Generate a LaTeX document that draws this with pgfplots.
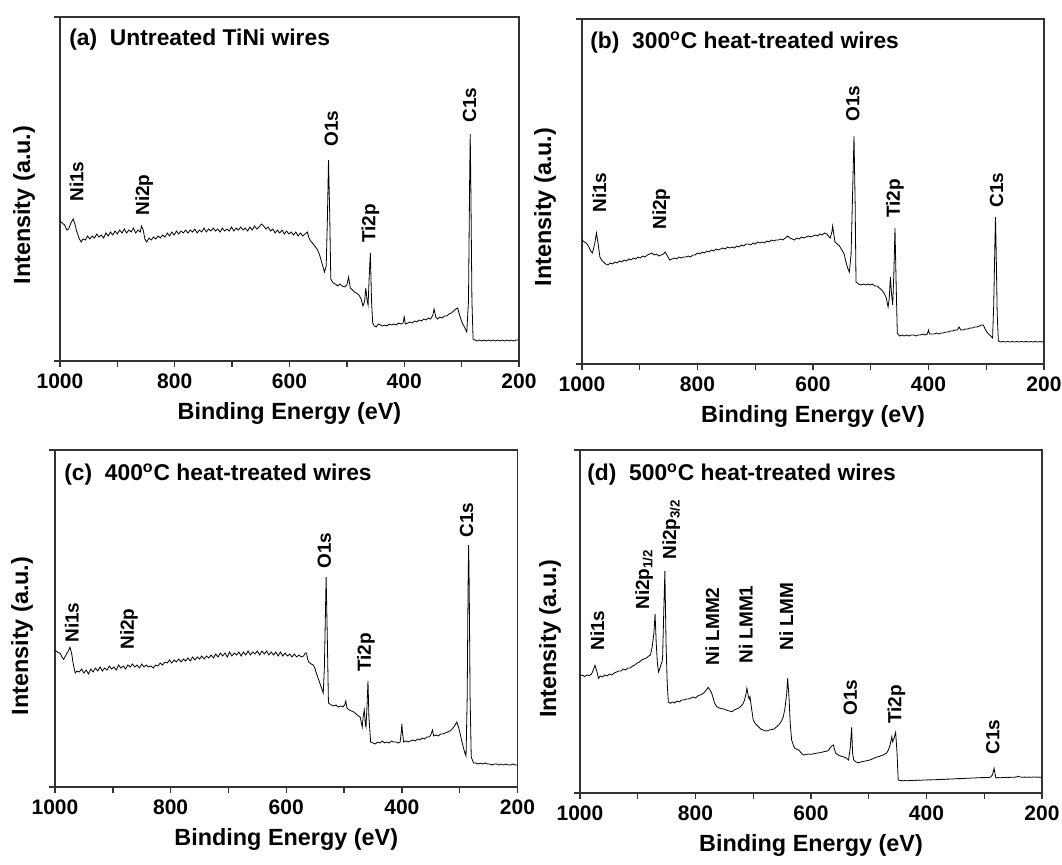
\documentclass[border=0pt]{standalone}
\usepackage{fontspec}
\setmainfont{Liberation Sans}
\usepackage{pgfplots}
\pgfplotsset{compat=1.18}

% 1 px of the reference = 0.5pt
\pgfplotsset{
  xps/.style={
    scale only axis, anchor=north west, clip=false,
    x dir=reverse, xmin=200, xmax=1000, ymin=0,
    xtick={200,400,600,800,1000}, minor xtick={300,500,700,900},
    tick align=outside, xtick pos=left, ytick pos=left,
    major tick length=3pt, minor tick length=3pt,
    yticklabels={},
    axis line style={line width=0.9pt, black!80},
    every tick/.style={line width=0.7pt, black!80},
    every minor tick/.style={line width=0.7pt, black!80},
    /pgf/number format/assume math mode=true,
    /pgf/number format/1000 sep={},
    ticklabel style={font=\fontsize{10.5}{12}\selectfont\bfseries},
    label style={font=\fontsize{11.7}{14}\selectfont\bfseries},
    xlabel={Binding Energy (eV)},
    ylabel={Intensity (a.u.)},
    cycle list={{black, line width=0.55pt, no marks}},
  },
}
\tikzset{
  lbl/.style={rotate=90, anchor=west, inner sep=0pt, font=\fontsize{9.5}{11}\selectfont\bfseries},
  ttl/.style={anchor=west, inner sep=0pt, font=\fontsize{11.4}{13}\selectfont\bfseries},
}

\begin{document}
\begin{tikzpicture}

% ---------------- (a) ----------------
\begin{axis}[xps, at={(30pt,-8.5pt)}, width=229.5pt, height=172pt,
  ymax=344, ytick={0,344},
  ylabel style={at={(rel axis cs:0,0.453)}, anchor=center, yshift=18pt}]
\addplot coordinates {
(1000,140) (996,138) (992,136) (988,131) (985,132) (981,138) (977,142) (974,137) (971,130) (967,123) (963,119) (960,122) (956,121) (952,125) (948,122) (944,125) (940,123) (936,127) (932,124) (928,126) (924,123) (920,128) (916,125) (912,129) (908,126) (904,130) (900,127) (896,131) (892,128) (888,132) (884,128) (880,131) (876,129) (872,133) (868,128) (864,131) (860,129) (858,135) (855,131) (852,122) (849,119) (845,123) (841,121) (837,124) (833,122) (829,125) (825,123) (821,126) (817,124) (813,128) (809,125) (805,129) (801,126) (797,130) (793,127) (789,130) (785,128) (781,131) (777,128) (773,131) (769,129) (765,132) (761,128) (757,131) (753,129) (749,133) (745,129) (741,132) (737,130) (733,133) (729,130) (725,132) (721,129) (717,133) (713,130) (709,132) (705,130) (701,134) (697,130) (693,133) (689,131) (685,134) (681,131) (677,133) (673,130) (669,134) (665,131) (661,135) (657,132) (653,134) (649,137) (645,135) (641,132) (637,134) (633,130) (629,132) (625,128) (621,131) (617,128) (613,131) (609,127) (605,130) (601,127) (597,129) (593,126) (589,129) (585,125) (581,128) (577,125) (573,127) (569,129) (566,123) (563,120) (560,118) (556,115) (552,112) (548,107) (545,101) (542,95) (539,89) (536,95) (534,140) (532,201) (530,150) (528,82) (524,78) (520,77) (516,75) (512,77) (508,75) (504,74) (500,76) (497,84) (494,73) (490,71) (487,69) (483,68) (479,66) (475,62) (472,55) (469,60) (467,73) (465,62) (463,56) (461,85) (459,108) (457,60) (455,38) (452,35) (449,34) (445,37) (441,36) (438,35) (434,36) (430,35) (426,37) (422,36) (418,37) (414,36) (410,38) (406,37) (402,38) (400,44) (398,37) (394,38) (390,39) (386,38) (382,40) (378,39) (374,41) (370,40) (366,42) (362,41) (358,43) (354,42) (350,46) (348,52) (345,44) (342,42) (338,44) (334,43) (330,45) (326,45) (322,47) (318,48) (314,50) (310,52) (307,53) (303,45) (299,38) (295,34) (291,29) (288,60) (286,180) (285,227) (284,180) (282,60) (280,22) (277,21) (273,20) (269,21) (265,20) (261,21) (257,20) (253,21) (249,20) (245,21) (241,20) (237,21) (233,20) (229,21) (225,20) (221,21) (217,20) (213,21) (209,20) (205,21) (201,21) (200,21)
};
\node[ttl] at (rel axis cs:0,1) [xshift=4.5pt, yshift=-11.5pt] {(a)\ \ Untreated TiNi wires};
\node[lbl] at (axis cs:971,159) {Ni1s};
\node[lbl] at (axis cs:853,145) {Ni2p};
\node[lbl] at (axis cs:527,214) {O1s};
\node[lbl] at (axis cs:459,118) {Ti2p};
\node[lbl] at (axis cs:286,238) {C1s};
\end{axis}

% ---------------- (b) ----------------
\begin{axis}[xps, at={(291pt,-9.5pt)}, width=231pt, height=172.5pt,
  ymax=345, ytick={0,345},
  ylabel style={at={(rel axis cs:0,0.455)}, anchor=center, yshift=18.5pt}]
\addplot coordinates {
(1000,124) (996,122) (992,120.7) (988,117) (985,113) (982,111) (978,120) (975,131) (972,120) (969,107) (966,104) (963,102) (959,100) (955,99) (951,101) (947,100) (943,102) (939,101) (935,103) (931,102) (927,104) (923,103) (919,105) (915,104) (911,106) (907,105) (903,107) (899,106) (895,108) (891,107) (887,109) (883,110) (879,111) (875,109) (871,110) (867,108) (863,109) (859,110) (856,112) (852,108) (848,104) (844,105) (840,106) (836,105) (832,107) (828,106) (824,107) (820,107) (816,108) (812,107) (808,109) (804,109) (800,111) (796,110) (792,112) (788,111) (784,113) (780,112) (776,114) (772,113) (768,115) (764,114) (760,115) (756,116) (752,115) (748,117) (744,116) (740,117) (736,116) (732,118) (728,117) (724,119) (720,118) (716,120) (712,120) (708,119) (704,121) (700,120) (696,122) (692,121) (688,122) (684,121) (680,123) (676,122) (672,124) (668,123) (664,124) (660,124) (656,125) (652,124) (648,126) (644,128) (640,126) (636,125) (632,124) (628,126) (624,125) (620,127) (616,126) (612,127) (608,128) (604,127) (600,128) (596,129) (592,128) (588,130) (584,129) (580,131) (576,130) (572,127) (570,126) (567,133) (566,138) (564,130) (562,122) (558,120) (554,118) (550,114) (546,110) (543,102) (540,96) (537,92) (534,110) (531,180) (529,228) (527,160) (525.5,82) (521,80) (517,79) (513,80) (509,79) (505,80) (501,79) (497,80) (493,78) (489,78) (485,76) (481,74) (477,71) (473,66) (470,57) (468,65) (466,87) (464,70) (462,59) (460,90) (458,136) (456,80) (454,31) (450,28) (446,29) (442,28) (438,29) (434,28) (430,29) (426,29) (422,28) (418,29) (414,29) (410,30) (406,29) (402,30) (400,34) (398,30) (394,30) (390,30) (386,31) (382,30) (378,31) (374,31) (370,32) (366,32) (362,33) (358,33) (354,34) (350,34) (347,37) (344,34) (340,34) (336,35) (332,35) (328,36) (324,36) (320,37) (316,37) (312,38) (308,39) (305,39) (302,35) (299,32) (296,30) (292,28) (289,26) (287,60) (285,120) (284,147) (283,120) (281,50) (279,23) (275,22) (271,22.5) (267,22) (263,22.5) (259,22) (255,22.5) (251,22) (247,22.5) (243,22) (239,22.5) (235,22) (231,22.5) (227,22) (223,22.5) (219,22) (215,22.5) (211,22) (207,22.5) (203,22) (200,22.5)
};
\node[ttl] at (rel axis cs:0,1) [xshift=4pt, yshift=-12pt] {(b)\ \ 300\textsuperscript{o}C heat-treated wires};
\node[lbl] at (axis cs:970,151) {Ni1s};
\node[lbl] at (axis cs:863,134) {Ni2p};
\node[lbl] at (axis cs:531,242) {O1s};
\node[lbl] at (axis cs:458,146) {Ti2p};
\node[lbl] at (axis cs:282,156) {C1s};
\end{axis}

% ---------------- (c) ----------------
\begin{axis}[xps, at={(27.5pt,-225pt)}, width=231.25pt, height=168.5pt,
  ymax=337, ytick={0,337},
  ylabel style={at={(rel axis cs:0,0.448)}, anchor=center, yshift=16.5pt}]
\addplot coordinates {
(1000,137) (996,135) (991,133.7) (988,130) (985,127.7) (981,132) (978,135) (974,139.7) (971,133) (969,125) (967,119) (965,114) (962,116) (958,115) (954,118) (950,114) (946,117) (942,113) (938,118) (934,115) (930,119) (926,116) (922,120) (918,116) (914,119) (910,117) (906,121) (902,118) (898,120) (894,117) (890,122) (886,119) (882,121) (878,118) (874,122) (870,120) (866,123) (862,120) (858,122) (854,119) (850,123) (846,120) (842,122) (838,120) (834,121) (830,119) (826,122) (822,121) (818,124) (814,122) (810,125) (806,124) (802,127) (798,124) (794,127) (790,125) (786,128) (782,125) (778,128) (774,126) (770,129) (766,126) (762,130) (758,127) (754,130) (750,128) (746,131) (742,128) (738,131) (734,129) (730,132) (726,129) (722,133) (718,130) (714,134) (710,131) (706,134) (702,130) (698,135) (694,131) (690,134) (686,132) (682,135) (678,131) (674,135) (670,132) (666,136) (662,132) (658,135) (654,133) (650,136) (646,132) (642,136) (638,133) (634,136) (630,132) (626,135) (622,132) (618,135) (614,131) (610,135) (606,131) (602,134) (598,131) (594,133) (590,130) (586,133) (582,130) (578,132) (574,130) (570,131) (567,134) (565,134) (563,128) (561,125) (557,123) (553,122) (550,118) (548,114) (545,109) (542,104) (539,99) (536,94) (534,120) (532,180) (531,210) (529,150) (527,84) (522,82) (518,81) (514,82) (510,80) (506,81) (502,80) (499,82) (497,86) (495,79) (491,77) (487,76) (483,75) (479,73) (475,71) (472,70) (470,64) (468.5,60) (467,70) (465,77) (463,62) (462,60) (460,85) (458.6,106) (457,70) (454,45) (450,44) (446,43) (442,45) (438,44) (434,46) (430,44) (426,45) (422,44) (418,46) (414,45) (410,45) (406,44) (403,45) (401,55) (400,63) (399,55) (397,45) (393,46) (389,45) (385,46) (381,47) (377,46) (373,48) (369,47) (365,49) (361,48) (357,50) (353,50) (350,52) (347,57) (345,51) (341,52) (337,51) (333,53) (329,53) (325,54) (321,55) (317,56) (313,58) (309,61) (305,65) (302,60) (299,53) (296,45) (293,38) (291,34) (289,31) (287,90) (285.5,200) (284.5,242) (283.5,200) (282,90) (280,30) (278,27) (276,24) (272,24) (268,23) (264,24) (260,23) (256,24) (252,23) (248,23) (244,22) (240,23) (236,23) (232,22) (228,23) (224,22) (220,23) (216,22) (212,22) (208,23) (204,22) (200,22)
};
\node[ttl] at (rel axis cs:0,1) [xshift=4.5pt, yshift=-12.3pt] {(c)\ \ 400\textsuperscript{o}C heat-treated wires};
\node[lbl] at (axis cs:971,144) {Ni1s};
\node[lbl] at (axis cs:872,137) {Ni2p};
\node[lbl] at (axis cs:534,218) {O1s};
\node[lbl] at (axis cs:462,115) {Ti2p};
\node[lbl] at (axis cs:288,249) {C1s};
\end{axis}

% ---------------- (d) ----------------
\begin{axis}[xps, at={(290pt,-225pt)}, width=231pt, height=171.5pt,
  ymax=343, ytick={0,343},
  ylabel style={at={(rel axis cs:0,0.45)}, anchor=center, yshift=15pt}]
\addplot coordinates {
(1000,117) (996,118) (992,116.5) (988,118) (984,117.5) (980,119) (977,123) (974,127.7) (971,122) (968,114.7) (965,117) (961,116) (957,118) (953,117) (949,119) (945,118) (941,120) (937,121) (933,122) (929,122) (925,124) (921,123) (917,125) (913,125) (909,127) (905,128) (901,130) (897,131) (893,133) (889,134) (885,135) (881,137) (878,138) (875,146) (872,160) (870,179) (868,150) (866,130) (864,121) (862,124) (860,128) (858,131) (857,134.7) (855,180) (853,222) (851,150) (849,110) (847,91) (844,89.7) (840,91) (836,90) (832,92) (828,91) (824,93) (820,93) (816,94) (812,94) (808,95) (804,96) (800,95) (796,97) (792,98) (788,99) (784,101) (780,104) (778,105.7) (775,103) (772,100) (770,96) (767,90) (763,86.3) (759,85) (755,84.5) (751,84) (749,83.7) (745,82.5) (741,82) (737,81.3) (733,83) (729,84) (725,85) (721,87) (718,89) (715,93) (713,98) (711,104.7) (709,98) (707,94) (705.6,96.3) (703,85) (700,73) (697,70) (694,68) (691,66.3) (687,64) (683,63) (680,62.3) (676,62) (672,63) (668,63.5) (664,64) (660,66) (656,68) (652,71) (648,76.3) (645,85) (642,100) (640.4,114.7) (638,95) (636,70) (633.5,53) (630,47) (627.7,44.7) (624,43.5) (621,43) (617,40) (613,38) (609,38.5) (605,39) (601,38.7) (597,39) (593,39.5) (589,40) (584,40.3) (580,41) (576,41.5) (572,42) (569,43) (567,45) (564,47) (561,48) (559,43) (557,39.7) (553,38) (549,37) (545,36.3) (541,35.5) (537,34) (535,33) (532,45) (529.6,65.7) (528,40) (526,33) (522,31) (518,30.3) (514,31) (510,31.5) (506,32) (502,32.5) (498,33) (494,34) (490,35) (486,36) (482,36.5) (478,37.5) (475,38) (472,39) (469,40) (466,43) (463,48) (460,56.3) (458.6,51.3) (456,55) (453.4,60.7) (451,40) (449,13) (445,12.5) (441,12.3) (437,12.5) (433,12.2) (429,12.6) (425,12.4) (421,12.7) (417,12.6) (413,12.9) (409,12.8) (405,13) (401,13) (397,13.2) (393,13.1) (389,13.3) (385,13.2) (381,13.5) (377,13.4) (373,13.7) (369,13.6) (365,13.9) (361,13.9) (357,14.1) (353,14.1) (349,14.3) (345,14.4) (341,14.4) (337,14.6) (333,14.6) (329,14.8) (325,14.8) (321,15) (317,15) (313,15.2) (309,15.2) (305,15.4) (301,15.4) (297,15.6) (293,15.6) (289,15.8) (286,18) (284,22) (283,24.7) (281.5,20) (280,15) (276,15.5) (272,15.2) (268,15.6) (264,15.4) (260,15.7) (256,15.6) (252,15.8) (248,15.8) (244,16) (241,16.8) (238,16) (234,15.8) (230,15.9) (226,15.8) (222,15.9) (218,15.8) (214,16) (210,15.8) (206,15.9) (202,15.8) (200,15.9)
};
\node[ttl] at (rel axis cs:0,1) [xshift=3.5pt, yshift=-12.5pt] {(d)\ \ 500\textsuperscript{o}C heat-treated wires};
\node[lbl] at (axis cs:970,142) {Ni1s};
\node[lbl] at (axis cs:889,183) {Ni2p\textsubscript{1/2}};
\node[lbl] at (axis cs:842,233) {Ni2p\textsubscript{3/2}};
\node[lbl] at (axis cs:771,127) {Ni LMM2};
\node[lbl] at (axis cs:713,129) {Ni LMM1};
\node[lbl] at (axis cs:643,142) {Ni LMM};
\node[lbl] at (axis cs:532,77) {O1s};
\node[lbl] at (axis cs:452,69) {Ti2p};
\node[lbl] at (axis cs:285,38) {C1s};
\end{axis}

\pgfresetboundingbox
\useasboundingbox (0,0) rectangle (531pt,-432pt);
\end{tikzpicture}
\end{document}
